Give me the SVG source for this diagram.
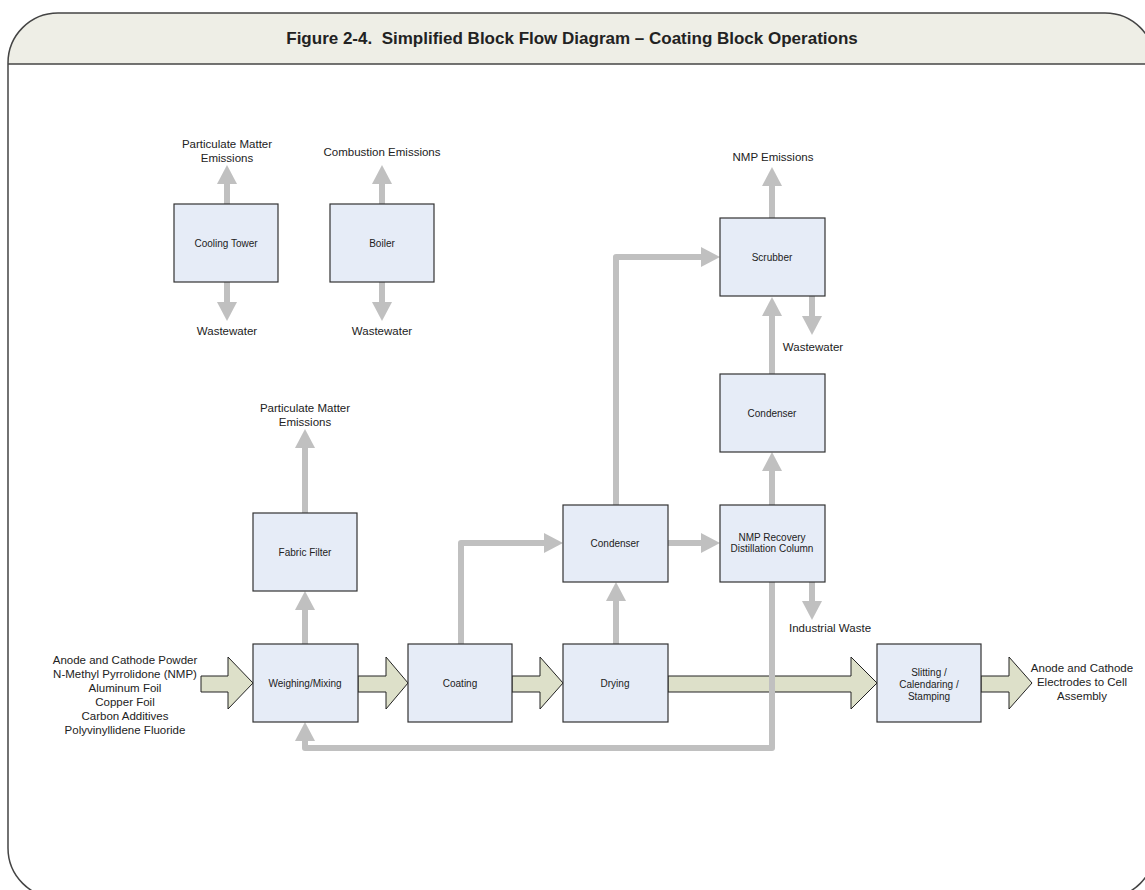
<svg xmlns="http://www.w3.org/2000/svg" width="1145" height="890" viewBox="0 0 1145 890">
<style>
.box{fill:#e6ecf7;stroke:#333;stroke-width:1.2}
.lbl{font-family:"Liberation Sans",Arial,sans-serif;font-size:10px;fill:#222;text-anchor:middle}
.ext{font-family:"Liberation Sans",Arial,sans-serif;font-size:11.5px;fill:#222;text-anchor:middle}
.ln{fill:none;stroke:#c0c0c0;stroke-width:6;stroke-linecap:round;stroke-linejoin:round}
.hd{fill:#c0c0c0}
.blk{fill:#dde0c9;stroke:#222;stroke-width:1}
.ttl{font-family:"Liberation Sans",Arial,sans-serif;font-size:17px;font-weight:bold;fill:#222;text-anchor:middle;white-space:pre}
</style>
<defs>
<polygon id="up" class="hd" points="0,0 10,19 -10,19"/>
<polygon id="dn" class="hd" points="0,0 10,-19 -10,-19"/>
<polygon id="rt" class="hd" points="0,0 -19,10 -19,-10"/>
</defs>
<g id="frame">
<path d="M8,64 V63 A50,50 0 0 1 58,13 H1105 A50,50 0 0 1 1155,63 V64 Z" fill="#eeeee6"/>
<path d="M8,63 A50,50 0 0 1 58,13 H1105 A50,50 0 0 1 1155,63 V848 A50,50 0 0 1 1105,898 H58 A50,50 0 0 1 8,848 Z" fill="none" stroke="#444" stroke-width="1.5"/>
<line x1="8" y1="64" x2="1155" y2="64" stroke="#444" stroke-width="1.5"/>
<text class="ttl" x="572" y="44" xml:space="preserve">Figure 2-4.  Simplified Block Flow Diagram – Coating Block Operations</text>
</g>
<g id="connectors">
<polygon class="blk" points="201,676 228,676 228,657 253,683 228,709 228,692 201,692"/>
<polygon class="blk" points="358,676 386,676 386,657 408,683 386,709 386,692 358,692"/>
<polygon class="blk" points="512,676 540,676 540,657 563,683 540,709 540,692 512,692"/>
<polygon class="blk" points="668,676 851,676 851,657 877,683 851,709 851,692 668,692"/>
<polygon class="blk" points="981,676 1009,676 1009,657 1032,683 1009,709 1009,692 981,692"/>
<path class="ln" d="M227,205 V183"/><use href="#up" x="227" y="165"/>
<path class="ln" d="M227,281 V302"/><use href="#dn" x="227" y="321"/>
<path class="ln" d="M382,205 V183"/><use href="#up" x="382" y="165"/>
<path class="ln" d="M382,281 V302"/><use href="#dn" x="382" y="321"/>
<path class="ln" d="M305,514 V447"/><use href="#up" x="305" y="429"/>
<path class="ln" d="M305,645 V609"/><use href="#up" x="305" y="591"/>
<path class="ln" d="M461,645 V543 H545"/><use href="#rt" x="563" y="543"/>
<path class="ln" d="M616,645 V600"/><use href="#up" x="616" y="582"/>
<path class="ln" d="M616,505 V257 H702"/><use href="#rt" x="720" y="257"/>
<path class="ln" d="M668,543 H702"/><use href="#rt" x="720" y="543"/>
<path class="ln" d="M772,505 V470"/><use href="#up" x="772" y="452"/>
<path class="ln" d="M772,374 V316"/><use href="#up" x="772" y="297"/>
<path class="ln" d="M772,219 V185"/><use href="#up" x="772" y="167"/>
<path class="ln" d="M812,297 V316"/><use href="#dn" x="812" y="335"/>
<path class="ln" d="M812,582 V601"/><use href="#dn" x="812" y="620"/>
<path class="ln" d="M772,582 V748 H305 V741"/><use href="#up" x="305" y="722"/>
</g>
<g id="cooling-tower"><rect class="box" x="174" y="204" width="104" height="78"/><text class="lbl" x="226" y="246.5">Cooling Tower</text></g>
<g id="boiler"><rect class="box" x="330" y="204" width="104" height="78"/><text class="lbl" x="382" y="246.5">Boiler</text></g>
<g id="scrubber"><rect class="box" x="720" y="218" width="105" height="78"/><text class="lbl" x="772" y="260.5">Scrubber</text></g>
<g id="condenser-2"><rect class="box" x="720" y="374" width="105" height="78"/><text class="lbl" x="772" y="416.5">Condenser</text></g>
<g id="condenser-1"><rect class="box" x="563" y="505" width="105" height="77"/><text class="lbl" x="615" y="546.5">Condenser</text></g>
<g id="nmp-recovery"><rect class="box" x="720" y="505" width="105" height="77"/><text class="lbl" x="772" y="540.5">NMP Recovery</text><text class="lbl" x="772" y="552">Distillation Column</text></g>
<g id="fabric-filter"><rect class="box" x="253" y="513" width="104" height="78"/><text class="lbl" x="305" y="555.5">Fabric Filter</text></g>
<g id="weighing-mixing"><rect class="box" x="253" y="644" width="105" height="78"/><text class="lbl" x="305" y="686.5">Weighing/Mixing</text></g>
<g id="coating"><rect class="box" x="408" y="644" width="104" height="78"/><text class="lbl" x="460" y="686.5">Coating</text></g>
<g id="drying"><rect class="box" x="563" y="644" width="105" height="78"/><text class="lbl" x="615" y="686.5">Drying</text></g>
<g id="slitting"><rect class="box" x="877" y="644" width="104" height="78"/><text class="lbl" x="929" y="675.5">Slitting /</text><text class="lbl" x="929" y="687.5">Calendaring /</text><text class="lbl" x="929" y="699.5">Stamping</text></g>
<g id="labels">
<text class="ext" x="227" y="148">Particulate Matter</text><text class="ext" x="227" y="162">Emissions</text>
<text class="ext" x="382" y="156">Combustion Emissions</text>
<text class="ext" x="227" y="335">Wastewater</text>
<text class="ext" x="382" y="335">Wastewater</text>
<text class="ext" x="305" y="412">Particulate Matter</text><text class="ext" x="305" y="426">Emissions</text>
<text class="ext" x="773" y="161">NMP Emissions</text>
<text class="ext" x="813" y="351">Wastewater</text>
<text class="ext" x="789" y="632" style="text-anchor:start">Industrial Waste</text>
<text class="ext" x="125" y="664">Anode and Cathode Powder</text>
<text class="ext" x="125" y="678">N-Methyl Pyrrolidone (NMP)</text>
<text class="ext" x="125" y="692">Aluminum Foil</text>
<text class="ext" x="125" y="706">Copper Foil</text>
<text class="ext" x="125" y="720">Carbon Additives</text>
<text class="ext" x="125" y="734">Polyvinyllidene Fluoride</text>
<text class="ext" x="1082" y="672">Anode and Cathode</text>
<text class="ext" x="1082" y="686">Electrodes to Cell</text>
<text class="ext" x="1082" y="700">Assembly</text>
</g>
</svg>
